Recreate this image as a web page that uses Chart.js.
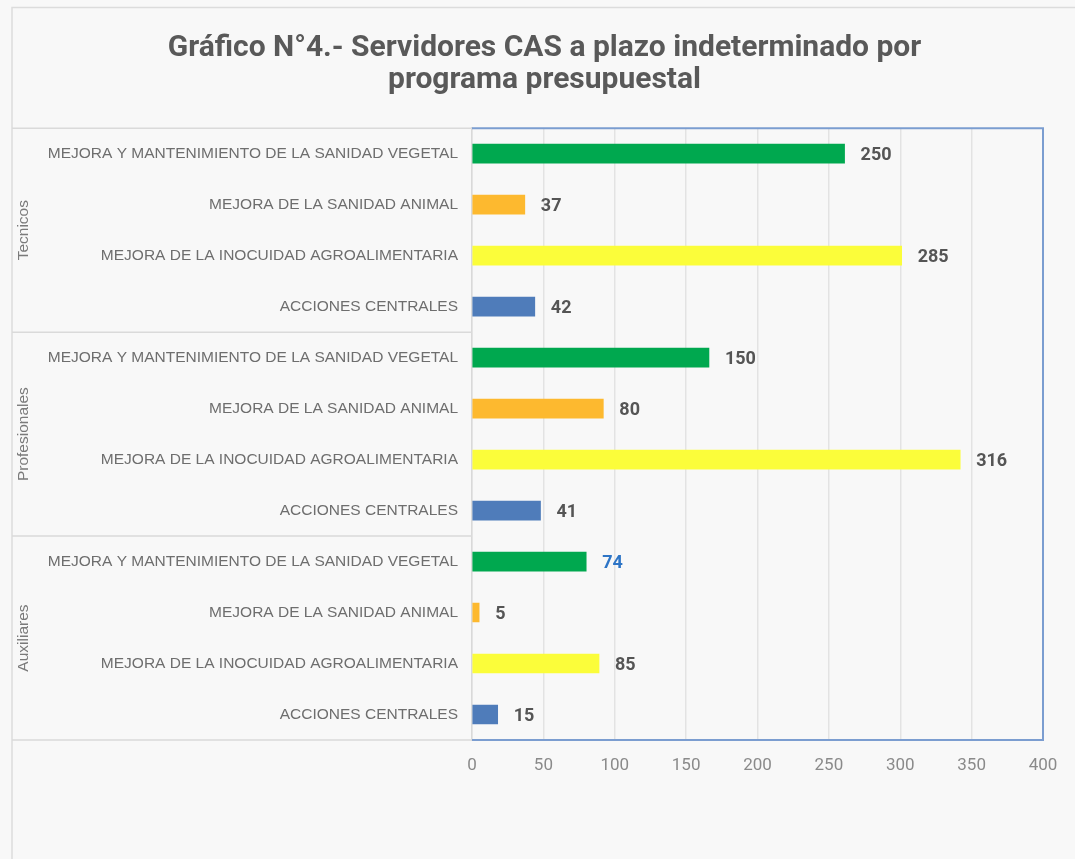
<!DOCTYPE html>
<html>
<head>
<meta charset="utf-8">
<script src="https://cdn.jsdelivr.net/npm/chart.js@4.4.1/dist/chart.umd.min.js"></script>
<style>
  html, body { margin: 0; padding: 0; background: #f8f8f8; }
  #wrap { position: relative; width: 1075px; height: 859px; }
</style>
</head>
<body>
<div id="wrap"><canvas id="c" width="1075" height="859"></canvas></div>
<script>
// ---- Data ----
const categories = [
  'MEJORA Y MANTENIMIENTO DE LA SANIDAD VEGETAL',
  'MEJORA DE LA SANIDAD ANIMAL',
  'MEJORA DE LA INOCUIDAD AGROALIMENTARIA',
  'ACCIONES CENTRALES',
  'MEJORA Y MANTENIMIENTO DE LA SANIDAD VEGETAL',
  'MEJORA DE LA SANIDAD ANIMAL',
  'MEJORA DE LA INOCUIDAD AGROALIMENTARIA',
  'ACCIONES CENTRALES',
  'MEJORA Y MANTENIMIENTO DE LA SANIDAD VEGETAL',
  'MEJORA DE LA SANIDAD ANIMAL',
  'MEJORA DE LA INOCUIDAD AGROALIMENTARIA',
  'ACCIONES CENTRALES'
];
const groups = ['Tecnicos', 'Profesionales', 'Auxiliares'];
// bar lengths as drawn in the picture (read against the axis)
const barValues = [261, 37, 301, 44, 166, 92, 342, 48, 80, 5, 89, 18];
// numbers printed next to the bars
const labelValues = [250, 37, 285, 42, 150, 80, 316, 41, 74, 5, 85, 15];
const xTicks = [0, 50, 100, 150, 200, 250, 300, 350, 400];
const titleLines = ['Gráfico N°4.- Servidores CAS a plazo indeterminado por', 'programa presupuestal'];

// ---- Styles ----
const programColors = ['#00a84f', '#fdb92f', '#fbfd3a', '#4f7cba'];
const barColors = categories.map((_, i) => programColors[i % 4]);
const labelColors = labelValues.map((_, i) => i === 8 ? '#2e75c6' : '#555555');

const decorPlugin = {
  id: 'decor',
  afterDraw(chart) {
    const ctx = chart.ctx;
    const area = chart.chartArea;
    const ys = chart.scales.y;
    ctx.save();
    // outer frame lines
    ctx.strokeStyle = '#dcdcdc';
    ctx.lineWidth = 1.5;
    ctx.beginPath();
    ctx.moveTo(12, 859); ctx.lineTo(12, 7.5); ctx.lineTo(1075, 7.5);
    ctx.stroke();
    // group separators
    const n = categories.length;
    const per = n / groups.length;
    const bounds = [area.top];
    for (let g = 1; g < groups.length; g++) {
      bounds.push((ys.getPixelForValue(g * per - 1) + ys.getPixelForValue(g * per)) / 2);
    }
    bounds.push(area.bottom);
    ctx.strokeStyle = '#dadada';
    ctx.lineWidth = 1.5;
    bounds.forEach(b => {
      ctx.beginPath(); ctx.moveTo(12, b); ctx.lineTo(area.left, b); ctx.stroke();
    });
    // group labels
    ctx.fillStyle = '#7a7a7a';
    ctx.font = '15.5px "Liberation Sans", Arial, sans-serif';
    ctx.textAlign = 'center';
    ctx.textBaseline = 'middle';
    groups.forEach((g, i) => {
      const cy = (bounds[i] + bounds[i + 1]) / 2;
      ctx.save();
      ctx.translate(24, cy);
      ctx.rotate(-Math.PI / 2);
      ctx.fillText(g, 0, 0);
      ctx.restore();
    });
    // blue plot border (top, right, bottom)
    ctx.strokeStyle = '#7b9dd0';
    ctx.lineWidth = 2;
    ctx.beginPath();
    ctx.moveTo(area.left, area.top); ctx.lineTo(area.right, area.top);
    ctx.lineTo(area.right, area.bottom); ctx.lineTo(area.left, area.bottom);
    ctx.stroke();
    // data labels
    ctx.font = 'bold 18px Roboto, sans-serif';
    ctx.textAlign = 'left';
    ctx.textBaseline = 'middle';
    const meta = chart.getDatasetMeta(0);
    meta.data.forEach((bar, i) => {
      ctx.fillStyle = labelColors[i];
      ctx.fillText(String(labelValues[i]), bar.x + 16, bar.y + 2);
    });
    ctx.restore();
  }
};

new Chart(document.getElementById('c'), {
  type: 'bar',
  data: {
    labels: categories,
    datasets: [{
      data: barValues,
      backgroundColor: barColors,
      borderWidth: 0,
      barThickness: 19
    }]
  },
  options: {
    indexAxis: 'y',
    responsive: false,
    animation: false,
    layout: { padding: { top: 0, left: 46, right: 32, bottom: 0 } },
    plugins: {
      legend: { display: false },
      tooltip: { enabled: false },
      title: {
        display: true,
        text: titleLines,
        color: '#595959',
        font: { family: 'Roboto', weight: 'bold', size: 30, lineHeight: 1.07 },
        padding: { top: 32, bottom: 32 }
      }
    },
    scales: {
      x: {
        type: 'linear',
        min: xTicks[0],
        max: xTicks[xTicks.length - 1],
        afterBuildTicks(scale) { scale.ticks = xTicks.map(v => ({ value: v })); },
        afterFit(scale) { scale.height = 119; },
        grid: { color: '#e3e3e3', lineWidth: 1.5, drawTicks: false },
        border: { display: false },
        ticks: {
          color: '#8a8a8a',
          padding: 16,
          font: { family: 'Roboto', size: 17 },
          maxRotation: 0
        }
      },
      y: {
        afterFit(scale) { scale.width = 426; },
        grid: { display: false, drawTicks: false },
        border: { display: true, color: '#d9d9d9', width: 1.5 },
        ticks: {
          color: '#6e6e6e',
          padding: 14,
          autoSkip: false,
          font: { family: 'Liberation Sans', size: 15.5 }
        }
      }
    }
  },
  plugins: [decorPlugin]
});
</script>
</body>
</html>
